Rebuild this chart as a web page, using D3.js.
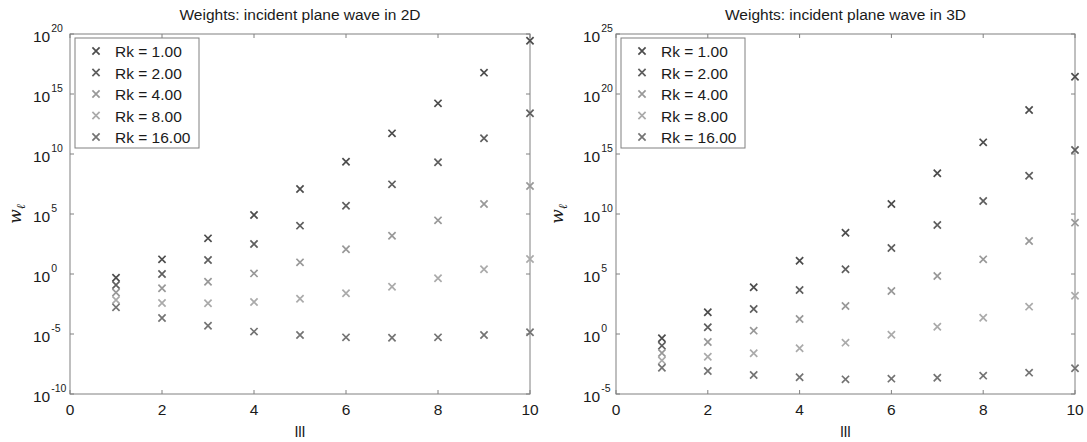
<!DOCTYPE html>
<html>
<head>
<meta charset="utf-8">
<script src="https://cdn.jsdelivr.net/npm/d3@7"></script>
<style>
  body { margin: 0; background: #fff; }
  svg { display: block; font-family: "Liberation Sans", Arial, sans-serif; }
</style>
</head>
<body>
<div id="chart"></div>
<script>
// mode index l
const modes = [1, 2, 3, 4, 5, 6, 7, 8, 9, 10]
const seriesNames = ['Rk = 1.00', 'Rk = 2.00', 'Rk = 4.00', 'Rk = 8.00', 'Rk = 16.00']
const seriesColors = ['#4c4c4c', '#5e5e5e', '#989898', '#aaaaaa', '#737373']

// weights, as powers of ten (2D panel)
const exp2dRk1 = [-0.31, 1.22, 2.97, 4.92, 7.08, 9.36, 11.72, 14.22, 16.78, 19.44]
const exp2dRk2 = [-0.92, 0.0, 1.17, 2.5, 4.03, 5.69, 7.47, 9.31, 11.31, 13.39]
const exp2dRk4 = [-1.54, -1.19, -0.64, 0.05, 0.97, 2.06, 3.19, 4.47, 5.83, 7.33]
const exp2dRk8 = [-2.17, -2.42, -2.44, -2.33, -2.06, -1.61, -1.06, -0.36, 0.39, 1.25]
const exp2dRk16 = [-2.78, -3.67, -4.31, -4.8, -5.08, -5.28, -5.31, -5.28, -5.08, -4.86]

// 3D panel
const exp3dRk1 = [-0.36, 1.81, 3.89, 6.11, 8.44, 10.83, 13.39, 15.97, 18.67, 21.44]
const exp3dRk2 = [-0.97, 0.56, 2.08, 3.67, 5.39, 7.17, 9.08, 11.08, 13.19, 15.33]
const exp3dRk4 = [-1.58, -0.67, 0.28, 1.25, 2.33, 3.58, 4.83, 6.22, 7.75, 9.28]
const exp3dRk8 = [-2.2, -1.89, -1.61, -1.19, -0.72, -0.06, 0.61, 1.36, 2.28, 3.19]
const exp3dRk16 = [-2.81, -3.08, -3.42, -3.61, -3.78, -3.72, -3.64, -3.47, -3.22, -2.86]

const xTicks = [0, 2, 4, 6, 8, 10]
const yTicks2d = [-10, -5, 0, 5, 10, 15, 20]
const yTicks3d = [-5, 0, 5, 10, 15, 20, 25]

const panels = [
  {
    title: 'Weights: incident plane wave in 2D',
    series: [exp2dRk1, exp2dRk2, exp2dRk4, exp2dRk8, exp2dRk16],
    yTicks: yTicks2d,
    left: 70, right: 530, labelOffset: 37, yLabelX: 21
  },
  {
    title: 'Weights: incident plane wave in 3D',
    series: [exp3dRk1, exp3dRk2, exp3dRk4, exp3dRk8, exp3dRk16],
    yTicks: yTicks3d,
    left: 616, right: 1075, labelOffset: 33, yLabelX: 563
  }
]

const width = 1087
const height = 442
const plotTop = 34
const plotBottom = 394
const frameColor = '#808080'
const textColor = '#1a1a1a'

const svg = d3.select('#chart').append('svg')
  .attr('width', width)
  .attr('height', height)

panels.forEach(panel => drawPanel(panel))

function drawPanel(panel) {
  const yExt = d3.extent(panel.yTicks)
  const x = d3.scaleLinear().domain([0, 10]).range([panel.left, panel.right])
  const y = d3.scaleLog()
    .domain([Math.pow(10, yExt[0]), Math.pow(10, yExt[1])])
    .range([plotBottom, plotTop])

  const g = svg.append('g')

  // frame
  g.append('rect')
    .attr('x', panel.left)
    .attr('y', plotTop)
    .attr('width', panel.right - panel.left)
    .attr('height', plotBottom - plotTop)
    .attr('fill', 'none')
    .attr('stroke', frameColor)
    .attr('stroke-width', 1)

  // inward ticks on all four sides
  const tickLen = 4
  xTicks.forEach(t => {
    g.append('line').attr('x1', x(t)).attr('x2', x(t))
      .attr('y1', plotBottom).attr('y2', plotBottom - tickLen)
      .attr('stroke', frameColor)
    g.append('line').attr('x1', x(t)).attr('x2', x(t))
      .attr('y1', plotTop).attr('y2', plotTop + tickLen)
      .attr('stroke', frameColor)
  })
  panel.yTicks.forEach(e => {
    const yy = y(Math.pow(10, e))
    g.append('line').attr('x1', panel.left).attr('x2', panel.left + tickLen)
      .attr('y1', yy).attr('y2', yy).attr('stroke', frameColor)
    g.append('line').attr('x1', panel.right).attr('x2', panel.right - tickLen)
      .attr('y1', yy).attr('y2', yy).attr('stroke', frameColor)
  })

  // x tick labels
  g.selectAll('.xlab')
    .data(xTicks)
    .enter()
    .append('text')
    .attr('x', t => x(t))
    .attr('y', 415)
    .attr('text-anchor', 'middle')
    .attr('font-size', 15.5)
    .attr('fill', textColor)
    .text(t => t)

  // y tick labels, 10 with a raised exponent
  const ylab = g.selectAll('.ylab')
    .data(panel.yTicks)
    .enter()
    .append('text')
    .attr('x', panel.left - panel.labelOffset)
    .attr('y', e => y(Math.pow(10, e)) + 8)
    .attr('font-size', 15.5)
    .attr('fill', textColor)
  ylab.append('tspan').text('10')
  ylab.append('tspan')
    .attr('dx', 1)
    .attr('dy', -10)
    .attr('font-size', 10.5)
    .text(e => e)

  // title
  g.append('text')
    .attr('x', (panel.left + panel.right) / 2)
    .attr('y', 20)
    .attr('text-anchor', 'middle')
    .attr('font-size', 15.5)
    .attr('fill', textColor)
    .text(panel.title)

  // axis labels
  g.append('text')
    .attr('x', (panel.left + panel.right) / 2)
    .attr('y', 437)
    .attr('text-anchor', 'middle')
    .attr('font-size', 15.5)
    .attr('fill', textColor)
    .text('lll')

  const yl = g.append('text')
    .attr('transform', `translate(${panel.yLabelX},${(plotTop + plotBottom) / 2}) rotate(-90)`)
    .attr('text-anchor', 'middle')
    .attr('font-family', '"DejaVu Serif", serif')
    .attr('font-style', 'italic')
    .attr('font-size', 17)
    .attr('fill', textColor)
  yl.append('tspan').text('w')
  yl.append('tspan').attr('dy', 4).attr('font-size', 12).text('ℓ')

  // markers
  const half = 3.6
  panel.series.forEach((vals, si) => {
    const pts = modes.map((m, i) => ({ l: m, w: Math.pow(10, vals[i]) }))
    g.selectAll('.pt' + si)
      .data(pts)
      .enter()
      .append('path')
      .attr('d', d => {
        const cx = x(d.l)
        const cy = y(d.w)
        return `M${cx - half},${cy - half}L${cx + half},${cy + half}M${cx - half},${cy + half}L${cx + half},${cy - half}`
      })
      .attr('stroke', seriesColors[si])
      .attr('stroke-width', 1.7)
      .attr('fill', 'none')
  })

  // legend
  const lx = panel.left + 5
  const ly = 38
  const legend = g.append('g')
  legend.append('rect')
    .attr('x', lx)
    .attr('y', ly)
    .attr('width', 124)
    .attr('height', 110)
    .attr('fill', '#fff')
    .attr('stroke', frameColor)
  seriesNames.forEach((name, si) => {
    const cy = ly + 13 + si * 21.5
    const cx = lx + 21
    legend.append('path')
      .attr('d', `M${cx - half},${cy - half}L${cx + half},${cy + half}M${cx - half},${cy + half}L${cx + half},${cy - half}`)
      .attr('stroke', seriesColors[si])
      .attr('stroke-width', 1.7)
    legend.append('text')
      .attr('x', lx + 40)
      .attr('y', cy + 6)
      .attr('font-size', 15.5)
      .attr('fill', textColor)
      .text(name)
  })
}
</script>
</body>
</html>
